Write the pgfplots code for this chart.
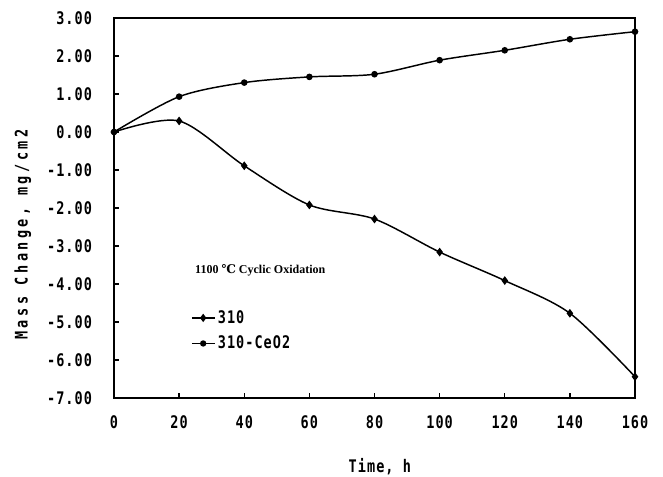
\documentclass[border=0pt]{standalone}
\usepackage{pgfplots}
\pgfplotsset{compat=1.18}
\usepackage{fontspec}
\setmainfont{Liberation Serif}
\newfontfamily\tickfont[FakeStretch=0.78, LetterSpace=6]{DejaVu Sans Mono}
\newfontfamily\labfont[FakeStretch=0.78, LetterSpace=20]{DejaVu Sans Mono}
\newfontfamily\symfont{DejaVu Serif}

\begin{document}
\begin{tikzpicture}
\begin{axis}[
  scale only axis, width=390.75pt, height=285pt,
  xmin=0, xmax=160, ymin=-7, ymax=3,
  axis line style={line width=2.2pt},
  xtick={0,20,...,160}, ytick={-7,-6,...,3},
  xticklabels={0,20,40,60,80,100,120,140,160},
  yticklabels={-7.00,-6.00,-5.00,-4.00,-3.00,-2.00,-1.00,0.00,1.00,2.00,3.00},
  xtick pos=bottom, ytick pos=left, tick align=inside,
  major tick length=3.5pt, tick style={line width=1pt, black},
  ticklabel style={font=\tickfont\bfseries\fontsize{13}{13}\selectfont},
  xticklabel style={yshift=-10pt},
  yticklabel style={xshift=-13pt},
  xlabel={Time, h}, ylabel={Mass Change, mg/cm2},
  xlabel style={font=\tickfont\bfseries\fontsize{13}{13}\selectfont, yshift=-15pt, xshift=4pt},
  ylabel style={font=\labfont\bfseries\fontsize{13}{13}\selectfont, at={(ticklabel cs:0.43,5pt)}, anchor=south},
  legend style={draw=none, fill=none, at={(rel axis cs:0.14,0.245)}, anchor=north west,
    font=\tickfont\bfseries\fontsize{13}{14}\selectfont, row sep=4pt},
  legend cell align=left,
  legend image post style={line width=0.9pt},
]
\addplot[black, line width=1.1pt, smooth, mark=diamond*, mark size=2.4pt] coordinates {
 (0,0) (20,0.29) (40,-0.89) (60,-1.92) (80,-2.29) (100,-3.16) (120,-3.91) (140,-4.77) (160,-6.44)};
\addplot[black, line width=1.1pt, smooth, mark=*, mark size=1.9pt] coordinates {
 (0,0) (20,0.93) (40,1.30) (60,1.45) (80,1.52) (100,1.89) (120,2.15) (140,2.44) (160,2.64)};
\legend{310, 310-CeO2}
\node[anchor=west, font=\bfseries\fontsize{9}{9}\selectfont] at (axis cs:23.5,-3.63) {1100 {\symfont ℃} Cyclic Oxidation};
\end{axis}
\pgfresetboundingbox
\path ([shift={(-85.5pt,-58.5pt)}]current axis.south west) rectangle ([shift={(21pt,13.5pt)}]current axis.north east);
\end{tikzpicture}
\end{document}
